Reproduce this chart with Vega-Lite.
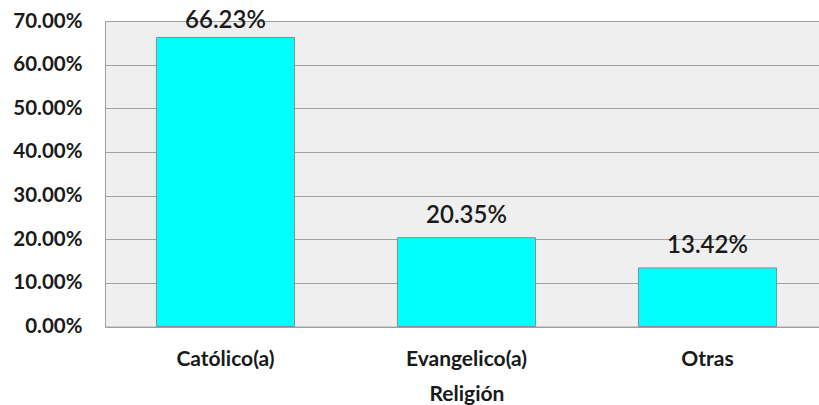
{
  "$schema": "https://vega.github.io/schema/vega-lite/v6.json",
  "autosize": "none",
  "width": 714,
  "height": 305.5,
  "padding": {"left": 105, "top": 21, "right": 0, "bottom": 78},
  "background": "#ffffff",
  "config": {
    "view": {"fill": "#efefef", "stroke": null},
    "font": "Lato"
  },
  "data": {
    "values": [
      {"religion": "Católico(a)", "pct": 0.6623},
      {"religion": "Evangelico(a)", "pct": 0.2035},
      {"religion": "Otras", "pct": 0.1342}
    ]
  },
  "encoding": {
    "x": {
      "field": "religion",
      "type": "nominal",
      "sort": null,
      "title": "Religión",
      "scale": {"range": [0, 723], "paddingInner": 0.427, "paddingOuter": 0.2135},
      "axis": {
        "labelAngle": 0,
        "ticks": false,
        "domainColor": "#a0a0a0",
        "labelFont": "Lato",
        "labelFontSize": 21,
        "labelFontWeight": "bold",
        "labelColor": "#1a1a1a",
        "labelPadding": 39,
        "labelBaseline": "alphabetic",
        "titleFont": "Lato",
        "titleFontSize": 21,
        "titleFontWeight": "bold",
        "titleColor": "#1a1a1a",
        "titleY": 74,
        "titleX": 361.5,
        "titleBaseline": "alphabetic"
      }
    },
    "y": {
      "field": "pct",
      "type": "quantitative",
      "title": null,
      "scale": {"domain": [0, 0.7], "nice": false},
      "axis": {
        "format": ".2%",
        "values": [0, 0.1, 0.2, 0.3, 0.4, 0.5, 0.6, 0.7],
        "ticks": false,
        "grid": true,
        "gridColor": "#a0a0a0",
        "gridOpacity": 1,
        "domainColor": "#a0a0a0",
        "labelFont": "Lato",
        "labelFontSize": 20.5,
        "labelFontWeight": "bold",
        "labelColor": "#1a1a1a",
        "labelPadding": 23
      }
    }
  },
  "layer": [
    {
      "mark": {"type": "bar", "color": "#00ffff", "stroke": "#8c8c8c", "strokeWidth": 1}
    },
    {
      "transform": [{"filter": "datum.pct < 0.6"}],
      "mark": {"type": "text", "baseline": "alphabetic", "dy": -15, "fontSize": 24, "font": "Lato", "fontWeight": 600, "color": "#1a1a1a"},
      "encoding": {"text": {"field": "pct", "type": "quantitative", "format": ".2%"}}
    },
    {
      "transform": [{"filter": "datum.pct >= 0.6"}],
      "mark": {"type": "text", "baseline": "alphabetic", "dy": -9.5, "fontSize": 24, "font": "Lato", "fontWeight": 600, "color": "#1a1a1a"},
      "encoding": {"text": {"field": "pct", "type": "quantitative", "format": ".2%"}}
    }
  ]
}
